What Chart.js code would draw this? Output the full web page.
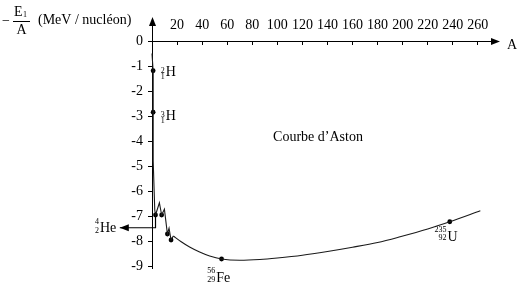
<!DOCTYPE html>
<html><head><meta charset="utf-8">
<script src="https://cdn.jsdelivr.net/npm/chart.js@4.4.1/dist/chart.umd.min.js"></script>
<style>html,body{margin:0;padding:0;background:#fff;}canvas{display:block;}</style>
</head><body>
<canvas id="c" width="525" height="293"></canvas>
<script>
// ---- data ----
const xTicks = [20, 40, 60, 80, 100, 120, 140, 160, 180, 200, 220, 240, 260];
const yTicks = [-9, -8, -7, -6, -5, -4, -3, -2, -1, 0];
const yTickLabels = ['-9', '-8', '-7', '-6', '-5', '-4', '-3', '-2', '-1', '0'];

// steep light-nuclei part (straight segments)
const curveA1 = [0.0, 0.9, 0.9, 1.0, 2.2, 2.8, 5.9, 7.7, 9.9, 12.3, 13.6, 15.2, 17.0];
const curveE1 = [-0.50, -1.19, -2.85, -4.80, -6.76, -6.96, -6.47, -6.96, -6.73, -7.72, -7.49, -7.96, -7.80];
// smooth part
const curveA2 = [17, 23, 30, 38, 46, 55.5, 70, 86, 100, 120, 140, 160, 180, 198, 220, 237.6, 262];
const curveE2 = [-7.80, -8.02, -8.24, -8.44, -8.60, -8.72, -8.77, -8.74, -8.68, -8.57, -8.42, -8.25, -8.06, -7.83, -7.52, -7.23, -6.79];
// marked nuclei
const markA = [0.9, 0.9, 2.8, 7.7, 12.3, 15.2, 55.5, 237.6];
const markE = [-1.19, -2.85, -6.96, -6.96, -7.72, -7.96, -8.72, -7.23];
// He pointer
const heA = [2.8, 2.8, -25.7];
const heE = [-6.96, -7.47, -7.47];

const toXY = (a, e) => a.map((v, i) => ({x: v, y: e[i]}));
const FONT = 'Liberation Serif';
Chart.defaults.font.family = FONT;
Chart.defaults.font.size = 14;
Chart.defaults.color = '#000';

function nucleus(ctx, sym, up, down, xLeft, yMid, upDy, downDy) {
  ctx.font = '14px ' + FONT;
  ctx.textAlign = 'left';
  ctx.textBaseline = 'middle';
  ctx.fillText(sym, xLeft, yMid);
  ctx.font = '8px ' + FONT;
  ctx.textAlign = 'right';
  ctx.fillText(up, xLeft - 1, yMid + upDy);
  ctx.fillText(down, xLeft - 1, yMid + downDy);
}

const deco = {
  id: 'deco',
  afterDatasetsDraw(chart) {
    const {ctx, chartArea: ca, scales: {x, y}} = chart;
    ctx.save();
    ctx.fillStyle = '#000';
    ctx.strokeStyle = '#000';
    ctx.lineWidth = 1;
    // y axis extension + arrow
    const ax = Math.round(x.getPixelForValue(0)) + 0.5;
    ctx.beginPath(); ctx.moveTo(ax, ca.top); ctx.lineTo(ax, 24); ctx.stroke();
    ctx.beginPath(); ctx.moveTo(ax, 17); ctx.lineTo(ax - 3.5, 26); ctx.lineTo(ax + 3.5, 26); ctx.closePath(); ctx.fill();
    // x axis arrow
    const ay = Math.round(y.getPixelForValue(0)) + 0.5;
    ctx.beginPath(); ctx.moveTo(500, ay); ctx.lineTo(491, ay - 3.5); ctx.lineTo(491, ay + 3.5); ctx.closePath(); ctx.fill();
    // He arrow head
    const tx = x.getPixelForValue(heA[2]), ty = y.getPixelForValue(heE[2]);
    ctx.beginPath(); ctx.moveTo(tx, ty); ctx.lineTo(tx + 9, ty - 3.5); ctx.lineTo(tx + 9, ty + 3.5); ctx.closePath(); ctx.fill();

    // axis names
    ctx.font = '14px ' + FONT;
    ctx.textBaseline = 'middle';
    ctx.textAlign = 'left';
    ctx.fillText('A', 507, 45);
    ctx.fillText('\u2212', 2, 21);
    ctx.fillText('E', 14, 12);
    ctx.font = '8px ' + FONT;
    ctx.fillText('1', 23, 15);
    ctx.beginPath(); ctx.moveTo(13, 21.5); ctx.lineTo(30, 21.5); ctx.stroke();
    ctx.font = '14px ' + FONT;
    ctx.textAlign = 'center';
    ctx.fillText('A', 21.5, 30.5);
    ctx.textAlign = 'left';
    ctx.fillText('(MeV / nucl\u00e9on)', 38, 20);

    // curve name
    ctx.fillText('Courbe d\u2019Aston', x.getPixelForValue(96.6), y.getPixelForValue(-3.85));

    // nuclei labels
    const px = i => x.getPixelForValue(markA[i]);
    const py = i => y.getPixelForValue(markE[i]);
    nucleus(ctx, 'H', '2', '1', px(0) + 12.7, py(0) + 1.5, -1.5, 4.5);
    nucleus(ctx, 'H', '3', '1', px(1) + 12.7, py(1) + 4.5, -1.5, 4);
    ctx.font = '14px ' + FONT;
    const heW = ctx.measureText('He').width;
    nucleus(ctx, 'He', '4', '2', tx - 3.5 - heW, ty + 0.8, -6.5, 2.5);
    nucleus(ctx, 'Fe', '56', '29', px(6) - 5.3, py(6) + 19.5, -8, 1.5);
    nucleus(ctx, 'U', '235', '92', px(7) - 2.3, py(7) + 16, -7.5, 0.5);
    ctx.restore();
  }
};

new Chart(document.getElementById('c'), {
  type: 'scatter',
  data: {
    datasets: [
      {data: toXY(curveA1, curveE1), showLine: true, borderColor: '#1a1a1a', borderWidth: 1.1, pointRadius: 0, tension: 0, clip: false},
      {data: toXY(curveA2, curveE2), showLine: true, borderColor: '#1a1a1a', borderWidth: 1.1, pointRadius: 0, tension: 0.4, cubicInterpolationMode: 'monotone', clip: false},
      {data: toXY(markA, markE), showLine: false, pointRadius: 2.4, pointBorderWidth: 0, backgroundColor: '#000', borderColor: '#000', clip: false},
      {data: toXY(heA, heE), showLine: true, borderColor: '#000', borderWidth: 1.2, pointRadius: 0, tension: 0, clip: false}
    ]
  },
  options: {
    responsive: false,
    animation: false,
    devicePixelRatio: 1,
    layout: {autoPadding: false, padding: {top: 0, left: 0, right: 33, bottom: 25}},
    plugins: {legend: {display: false}, tooltip: {enabled: false}, title: {display: false}},
    events: [],
    scales: {
      x: {
        type: 'linear', position: 'top', min: 0, max: 271.3,
        afterBuildTicks: s => { s.ticks = xTicks.map(v => ({value: v})); },
        afterFit: s => { s.height = 41; },
        grid: {drawOnChartArea: false, drawTicks: true, tickLength: -4, color: '#000', lineWidth: 1},
        border: {color: '#000', width: 1},
        ticks: {padding: 11.6, color: '#000', font: {size: 14}, maxRotation: 0, minRotation: 0, autoSkip: false, callback: v => String(v)}
      },
      y: {
        type: 'linear', position: 'left', min: -9.08, max: 0,
        afterBuildTicks: s => { s.ticks = yTicks.map(v => ({value: v})); },
        afterFit: s => { s.width = 152; },
        grid: {drawOnChartArea: false, drawTicks: true, tickLength: 4, color: '#000', lineWidth: 1},
        border: {color: '#000', width: 1},
        ticks: {padding: 5, color: '#000', font: {size: 14}, autoSkip: false, callback: (v, i) => yTickLabels[i]}
      }
    }
  },
  plugins: [deco]
});
</script>
</body></html>
